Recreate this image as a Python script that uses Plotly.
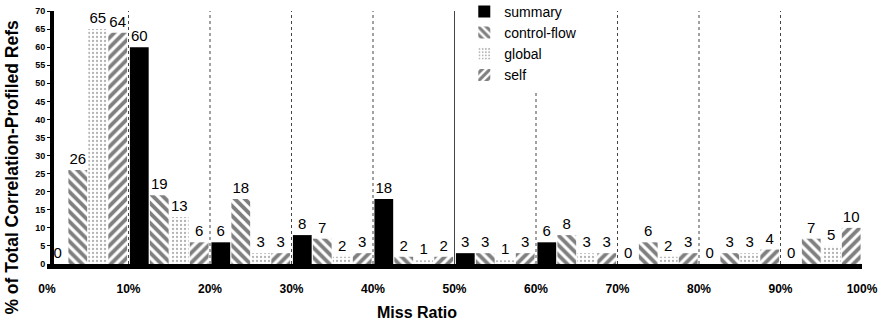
import plotly.graph_objects as go

bin_mid = [5, 15, 25, 35, 45, 55, 65, 75, 85, 95]
summary = [0, 60, 6, 8, 18, 3, 6, 0, 0, 0]
control_flow = [26, 19, 18, 7, 2, 3, 8, 6, 3, 7]
global_refs = [65, 13, 3, 2, 1, 1, 3, 2, 3, 5]
self_refs = [64, 6, 3, 3, 2, 3, 3, 3, 4, 10]

x_tickvals = [0, 10, 20, 30, 40, 50, 60, 70, 80, 90, 100]
x_ticktext = ["0%", "10%", "20%", "30%", "40%", "50%", "60%", "70%", "80%", "90%", "100%"]
divider_x = [10, 20, 30, 40, 50, 60, 70, 80, 90]

SANS = "Liberation Sans, Arial, Helvetica"

fig = go.Figure()

series = [
    ("summary", summary, dict(color="black")),
    ("control-flow", control_flow, dict(color="white", pattern=dict(shape="\\", fgcolor="black", bgcolor="white", size=7, solidity=0.55))),
    ("global", global_refs, dict(color="white", pattern=dict(shape=".", fgcolor="#666666", bgcolor="white", size=4, solidity=0.25))),
    ("self", self_refs, dict(color="white", pattern=dict(shape="/", fgcolor="black", bgcolor="white", size=7, solidity=0.55))),
]

for name, vals, marker in series:
    marker = dict(marker)
    marker["line"] = dict(width=0)
    fig.add_trace(go.Bar(
        name=name, x=bin_mid, y=vals, marker=marker,
        text=[str(v) for v in vals], textposition="outside",
        textfont=dict(family=SANS, size=15, color="black"),
        cliponaxis=False,
    ))

for xv in divider_x:
    fig.add_shape(type="line", xref="x", yref="y", x0=xv, x1=xv, y0=0, y1=70.8,
                  line=dict(color="#444444", width=1, dash="solid" if xv == 50 else "dot"),
                  layer="below")

fig.update_layout(
    width=881, height=331,
    margin=dict(l=47, r=19, t=11, b=67, autoexpand=False),
    paper_bgcolor="white", plot_bgcolor="white",
    barmode="group", bargap=0.02, bargroupgap=0.06,
    showlegend=True,
    legend=dict(x=0.512, y=1.06, xanchor="left", yanchor="top",
                bgcolor="white", borderwidth=0,
                font=dict(family=SANS, size=14, color="black"),
                tracegroupgap=0, itemwidth=30),
    xaxis=dict(range=[0, 100], tickvals=x_tickvals, ticktext=x_ticktext,
               showgrid=False, zeroline=False, showline=True, linecolor="black", linewidth=5,
               ticks="", ticklabelstandoff=10,
               tickfont=dict(family=SANS, size=12, color="black", weight="bold")),
    yaxis=dict(range=[0, 70], tickvals=list(range(0, 71, 5)),
               anchor="free", position=0.006,
               showgrid=False, zeroline=False, showline=True, linecolor="black", linewidth=3.5,
               ticks="outside", ticklen=3, tickwidth=1, tickcolor="black",
               tickfont=dict(family=SANS, size=9, color="black", weight="bold")),
    annotations=[
        dict(text="Miss Ratio", xref="paper", yref="paper", x=0.454, y=-0.19,
             xanchor="center", yanchor="middle", showarrow=False,
             font=dict(family=SANS, size=16, color="black", weight="bold")),
        dict(text="% of Total Correlation-Profiled Refs", xref="paper", yref="paper",
             x=-0.043, y=0.385, xanchor="center", yanchor="middle", textangle=-90,
             showarrow=False, font=dict(family=SANS, size=17.5, color="black", weight="bold")),
    ],
)

fig.write_html("out.html", config={"displayModeBar": False},
               post_script="document.body.style.margin='0';document.body.style.overflow='hidden';")
